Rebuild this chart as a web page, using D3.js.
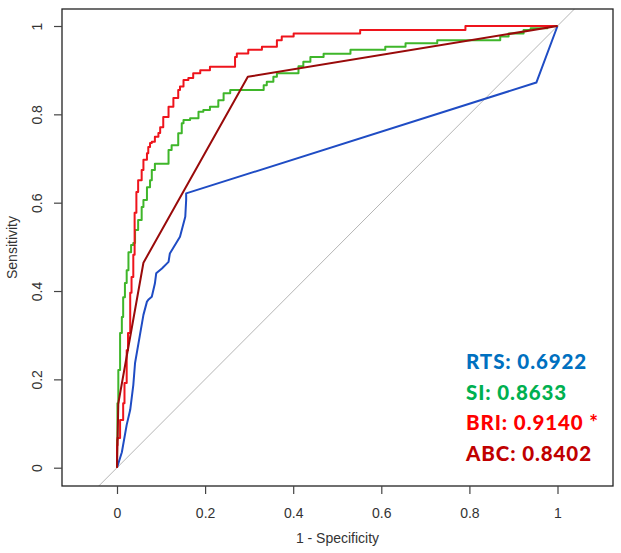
<!DOCTYPE html>
<html><head><meta charset="utf-8">
<script src="https://cdn.jsdelivr.net/npm/d3@7"></script>
<style>body{margin:0;background:#fff}svg{display:block}</style>
</head><body>
<script>
// ---- data (1 - specificity, sensitivity) ----
const xTicks = [0, 0.2, 0.4, 0.6, 0.8, 1];
const yTicks = [0, 0.2, 0.4, 0.6, 0.8, 1];
const xTickLabels = ["0", "0.2", "0.4", "0.6", "0.8", "1"];
const yTickLabels = ["0", "0.2", "0.4", "0.6", "0.8", "1"];

const rtsFpr = [0, 0.011, 0.022, 0.030, 0.037, 0.041, 0.052, 0.060, 0.068, 0.071, 0.079, 0.086, 0.089, 0.102, 0.117, 0.120, 0.143, 0.155, 0.157, 0.157, 0.952, 1.0];
const rtsTpr = [0, 0.035, 0.097, 0.131, 0.187, 0.237, 0.300, 0.346, 0.376, 0.380, 0.387, 0.417, 0.440, 0.451, 0.466, 0.485, 0.523, 0.568, 0.606, 0.621, 0.872, 1.0];

const siFpr = [0, 0.001, 0.003, 0.007, 0.011, 0.014, 0.018, 0.022, 0.026, 0.032, 0.037, 0.041, 0.048, 0.056, 0.060, 0.068, 0.075, 0.079, 0.086, 0.091, 0.117, 0.124, 0.139, 0.147, 0.151, 0.166, 0.185, 0.196, 0.211, 0.230, 0.242, 0.257, 0.272, 0.333, 0.340, 0.355, 0.363, 0.378, 0.412, 0.423, 0.439, 0.469, 0.530, 0.609, 0.655, 0.727, 0.870, 0.889, 0.923, 0.939, 0.977, 1.0];
const siTpr = [0, 0.063, 0.146, 0.221, 0.305, 0.341, 0.386, 0.418, 0.447, 0.488, 0.504, 0.509, 0.538, 0.561, 0.590, 0.606, 0.635, 0.651, 0.674, 0.688, 0.688, 0.719, 0.730, 0.757, 0.780, 0.787, 0.791, 0.806, 0.810, 0.817, 0.832, 0.848, 0.855, 0.855, 0.866, 0.874, 0.885, 0.893, 0.893, 0.909, 0.919, 0.930, 0.937, 0.946, 0.953, 0.961, 0.968, 0.976, 0.983, 0.991, 0.995, 1.0];

const briFpr = [0, 0.001, 0.007, 0.007, 0.014, 0.017, 0.022, 0.025, 0.030, 0.033, 0.037, 0.040, 0.044, 0.048, 0.056, 0.060, 0.068, 0.071, 0.075, 0.079, 0.086, 0.094, 0.098, 0.105, 0.117, 0.128, 0.139, 0.143, 0.151, 0.162, 0.173, 0.189, 0.211, 0.219, 0.268, 0.272, 0.298, 0.329, 0.363, 0.374, 0.401, 0.477, 0.552, 0.552, 0.791, 0.791, 1.0];
const briTpr = [0, 0.051, 0.067, 0.092, 0.108, 0.146, 0.192, 0.266, 0.305, 0.396, 0.432, 0.482, 0.577, 0.624, 0.651, 0.674, 0.697, 0.712, 0.726, 0.735, 0.738, 0.749, 0.758, 0.771, 0.794, 0.817, 0.837, 0.855, 0.863, 0.878, 0.882, 0.893, 0.900, 0.908, 0.908, 0.930, 0.938, 0.946, 0.953, 0.968, 0.976, 0.983, 0.983, 0.991, 0.991, 1.0, 1.0];

const abcFpr = [0, 0.003, 0.060, 0.297, 1.0];
const abcTpr = [0, 0.146, 0.464, 0.885, 1.0];

const labels = ["RTS: 0.6922", "SI: 0.8633", "BRI: 0.9140 *", "ABC: 0.8402"];
const labelColors = ["#0070C0", "#00B050", "#FF0000", "#C00000"];

// ---- drawing ----
const W = 621, H = 553;
const svg = d3.select("body").append("svg").attr("width", W).attr("height", H);
const box = {l: 62, r: 613, t: 9, b: 486};
const x = d3.scaleLinear().domain([0, 1]).range([117, 557.5]);
const y = d3.scaleLinear().domain([0, 1]).range([467.7, 26]);

svg.append("defs").append("clipPath").attr("id", "clip")
  .append("rect").attr("x", box.l).attr("y", box.t)
  .attr("width", box.r - box.l).attr("height", box.b - box.t);

const plot = svg.append("g").attr("clip-path", "url(#clip)");

// diagonal reference
plot.append("line")
  .attr("x1", x(-1)).attr("y1", y(-1)).attr("x2", x(2)).attr("y2", y(2))
  .attr("stroke", "#b5b5b5").attr("stroke-width", 1);

const series = [
  {fx: rtsFpr, ty: rtsTpr, color: "#1f4cc4", curve: d3.curveLinear},
  {fx: siFpr, ty: siTpr, color: "#3fb62a", curve: d3.curveStepBefore},
  {fx: briFpr, ty: briTpr, color: "#ee141c", curve: d3.curveStepBefore},
  {fx: abcFpr, ty: abcTpr, color: "#990a0a", curve: d3.curveLinear}
];
series.forEach(s => {
  const pts = s.fx.map((v, i) => [v, s.ty[i]]);
  const line = d3.line().x(d => x(d[0])).y(d => y(d[1])).curve(s.curve);
  plot.append("path").attr("d", line(pts)).attr("fill", "none")
    .attr("stroke", s.color).attr("stroke-width", 2).attr("stroke-linejoin", "round");
});

// frame
svg.append("rect").attr("x", box.l).attr("y", box.t)
  .attr("width", box.r - box.l).attr("height", box.b - box.t)
  .attr("fill", "none").attr("stroke", "#222").attr("stroke-width", 1.3);

// x axis
const xAxis = svg.append("g").attr("transform", `translate(0,${box.b})`)
  .call(d3.axisBottom(x).tickValues(xTicks).tickSize(8).tickPadding(0)
    .tickFormat((d, i) => xTickLabels[i]));
xAxis.select(".domain").remove();
xAxis.selectAll(".tick line").attr("stroke", "#444").attr("stroke-width", 1.2);
xAxis.selectAll(".tick text").attr("font-family", "'Liberation Sans', Arial, sans-serif")
  .attr("font-size", 14).attr("fill", "#333").attr("dy", null).attr("y", 32);

// y axis
const yAxis = svg.append("g").attr("transform", `translate(${box.l},0)`)
  .call(d3.axisLeft(y).tickValues(yTicks).tickSize(8).tickFormat((d, i) => yTickLabels[i]));
yAxis.select(".domain").remove();
yAxis.selectAll(".tick line").attr("stroke", "#444").attr("stroke-width", 1.2);
yAxis.selectAll(".tick text")
  .attr("font-family", "'Liberation Sans', Arial, sans-serif")
  .attr("font-size", 14).attr("fill", "#333")
  .attr("x", null).attr("dy", null)
  .attr("text-anchor", "middle")
  .attr("transform", "translate(-20,0) rotate(-90)");

// axis titles
svg.append("text").attr("x", (box.l + box.r) / 2).attr("y", 543)
  .attr("text-anchor", "middle").attr("font-family", "'Liberation Sans', Arial, sans-serif")
  .attr("font-size", 14).attr("fill", "#333").text("1 - Specificity");
svg.append("text").attr("transform", `translate(17,${(box.t + box.b) / 2}) rotate(-90)`)
  .attr("text-anchor", "middle").attr("font-family", "'Liberation Sans', Arial, sans-serif")
  .attr("font-size", 14).attr("fill", "#333").text("Sensitivity");

// AUC labels
labels.forEach((t, i) => {
  svg.append("text").attr("x", 466).attr("y", 369 + i * 30.5)
    .attr("font-family", "Lato, 'Open Sans', sans-serif").attr("font-weight", "900")
    .attr("font-size", 20.5).attr("letter-spacing", 0.9)
    .attr("fill", labelColors[i]).text(t);
});
</script>
</body></html>
